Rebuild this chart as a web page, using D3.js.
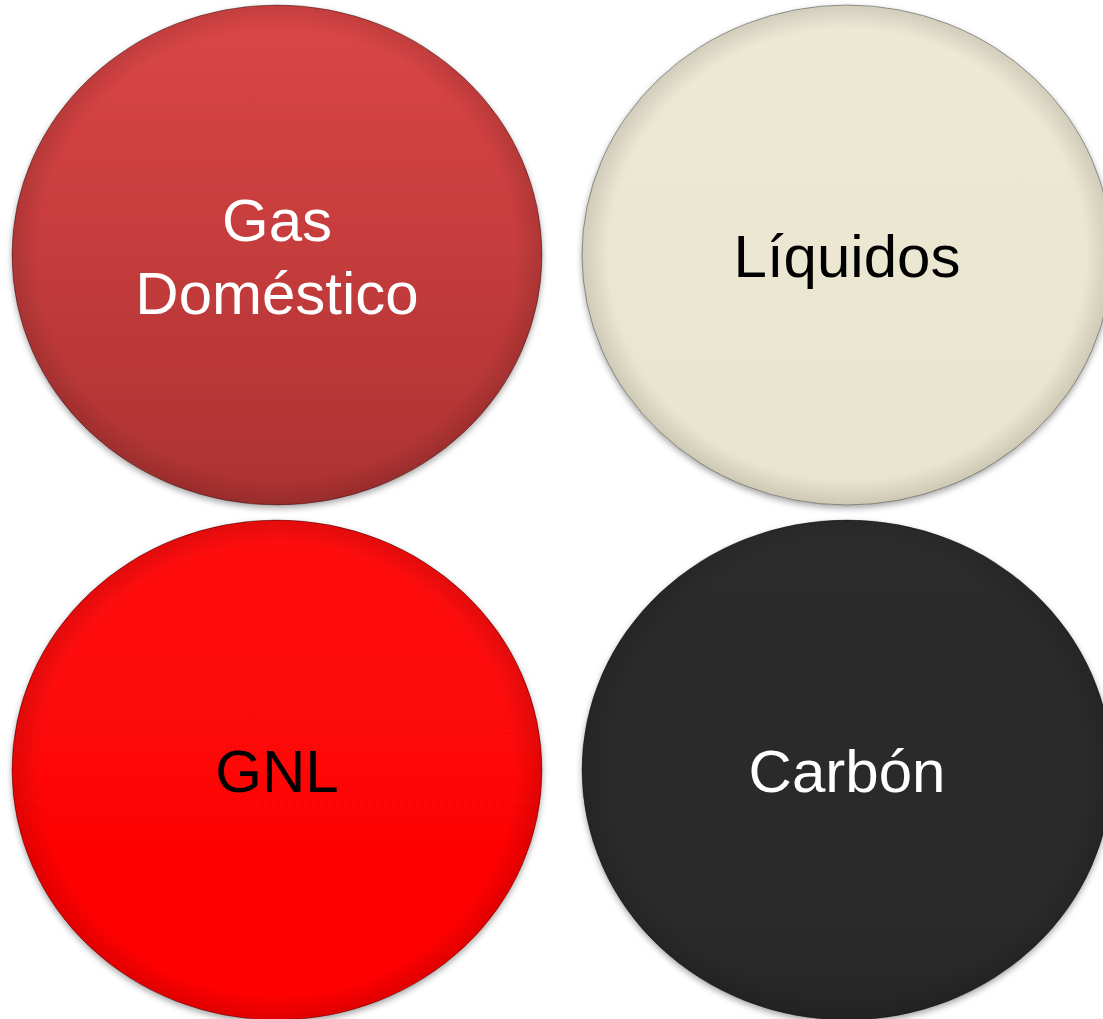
<!DOCTYPE html>
<html lang="es">
	<head>
		<meta charset="utf-8">
		<title>D3: Fuentes de energía</title>
		<script src="https://d3js.org/d3.v7.min.js" charset="utf-8"></script>
		<style type="text/css">
			body {
				margin: 0;
				background: white;
			}
			svg text {
				font-family: "Liberation Sans", Arial, sans-serif;
				font-size: 60px;
				text-anchor: middle;
			}
		</style>
	</head>
	<body>
		<script type="text/javascript">

			//Width and height
			var w = 1103;
			var h = 1019;

			//Data: one circle per source
			var labels = ["Gas\nDoméstico", "Líquidos", "GNL", "Carbón"];
			var cols = [0, 1, 0, 1];
			var rows = [0, 0, 1, 1];
			var topColors = ["#dd4646", "#eee9d5", "#ff0808", "#2d2d2d"];
			var bottomColors = ["#ac3232", "#e9e4cd", "#fe0505", "#282828"];
			var textColors = ["white", "black", "black", "white"];

			var dataset = labels.map(function(d, i) {
				return { label: d, col: cols[i], row: rows[i],
					top: topColors[i], bottom: bottomColors[i], text: textColors[i] };
			});

			//Scales for the grid
			var xScale = d3.scalePoint()
				.domain([0, 1])
				.range([277, 847]);

			var yScale = d3.scalePoint()
				.domain([0, 1])
				.range([255, 770]);

			var rx = 265, ry = 250;

			//Create SVG element
			var svg = d3.select("body")
				.append("svg")
				.attr("width", w)
				.attr("height", h);

			var defs = svg.append("defs");

			//Soft shadow under each disc
			var shadow = defs.append("filter")
				.attr("id", "shadow")
				.attr("x", "-10%").attr("y", "-10%")
				.attr("width", "120%").attr("height", "120%");
			shadow.append("feDropShadow")
				.attr("dx", 0)
				.attr("dy", 3)
				.attr("stdDeviation", 3)
				.attr("flood-color", "black")
				.attr("flood-opacity", 0.35);

			//One vertical gradient per disc
			dataset.forEach(function(d, i) {
				var g = defs.append("linearGradient")
					.attr("id", "grad" + i)
					.attr("x1", 0).attr("y1", 0)
					.attr("x2", 0).attr("y2", 1);
				g.append("stop").attr("offset", "0%").attr("stop-color", d.top);
				g.append("stop").attr("offset", "100%").attr("stop-color", d.bottom);
			});

			//Edge shading
			var rim = defs.append("radialGradient")
				.attr("id", "rim");
			rim.append("stop").attr("offset", "90%").attr("stop-color", "black").attr("stop-opacity", 0);
			rim.append("stop").attr("offset", "100%").attr("stop-color", "black").attr("stop-opacity", 0.12);

			var discs = svg.selectAll("g.disc")
				.data(dataset)
				.enter()
				.append("g")
				.attr("class", "disc")
				.attr("transform", function(d) {
					return "translate(" + xScale(d.col) + "," + yScale(d.row) + ")";
				});

			discs.append("ellipse")
				.attr("rx", rx)
				.attr("ry", ry)
				.attr("fill", function(d, i) { return "url(#grad" + i + ")"; })
				.attr("stroke", "rgba(0,0,0,0.35)")
				.attr("stroke-width", 1)
				.attr("filter", "url(#shadow)");

			discs.append("ellipse")
				.attr("rx", rx)
				.attr("ry", ry)
				.attr("fill", "url(#rim)");

			//Labels, one tspan per line
			discs.append("text")
				.style("fill", function(d) { return d.text; })
				.each(function(d) {
					var lines = d.label.split("\n");
					var lineH = 73;
					var y0 = 22 - (lines.length - 1) * lineH / 2;
					d3.select(this).selectAll("tspan")
						.data(lines)
						.enter()
						.append("tspan")
						.attr("x", 0)
						.attr("y", function(t, j) { return y0 + j * lineH; })
						.text(function(t) { return t; });
				});

		</script>
	</body>
</html>
